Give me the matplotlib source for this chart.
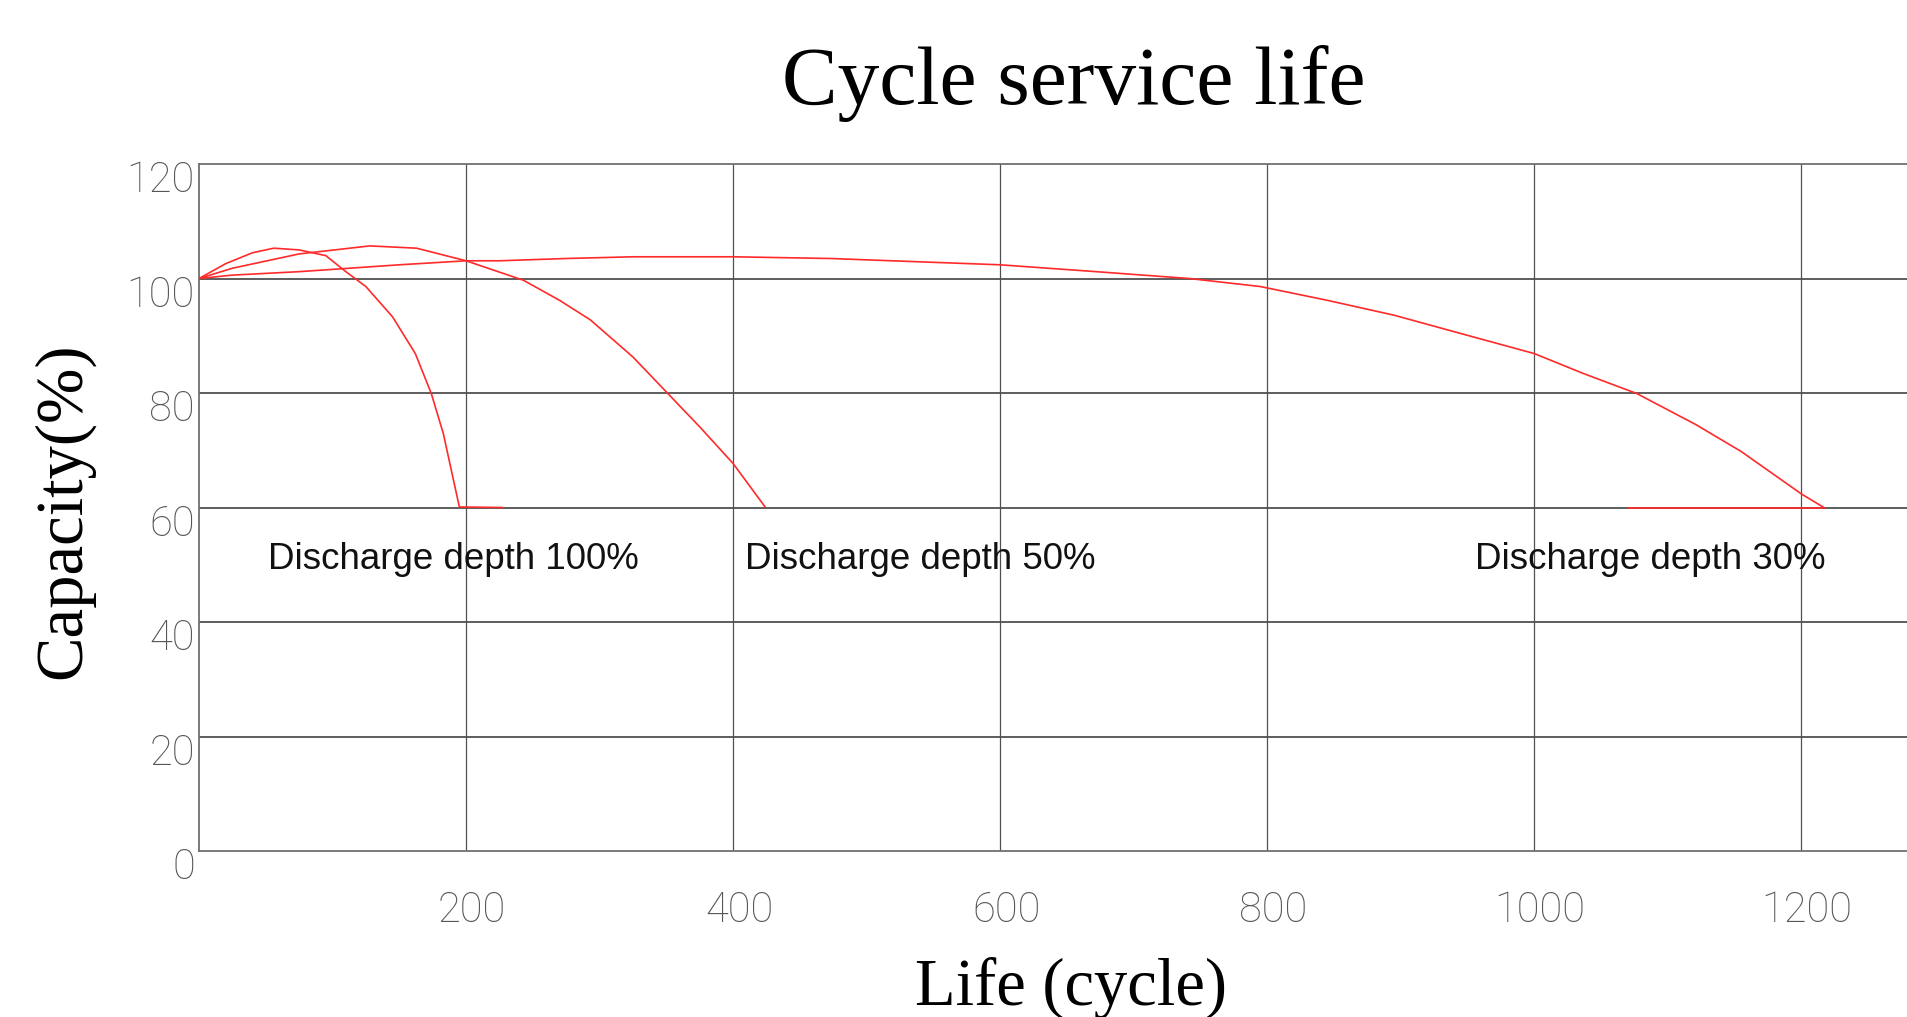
import matplotlib
matplotlib.use("Agg")
import matplotlib.pyplot as plt
from matplotlib.transforms import ScaledTranslation

# ---- data ----
x_ticks = [200, 400, 600, 800, 1000, 1200]
y_ticks = [0, 20, 40, 60, 80, 100, 120]

dod100_x = [0, 20, 40, 56, 75, 95, 110, 125, 145, 162, 174, 183, 195, 227]
dod100_y = [100, 102.6, 104.5, 105.3, 105.0, 104.0, 101.2, 98.6, 93.3, 86.9, 79.9, 72.9, 60.1, 60]

dod50_x = [0, 25, 75, 128, 163, 200, 243, 270, 293, 325, 350, 375, 400, 424]
dod50_y = [100, 101.8, 104.3, 105.7, 105.3, 103.1, 99.7, 96.2, 92.8, 86.3, 80.2, 74.1, 67.7, 60.1]

dod30_x = [0, 25, 75, 150, 200, 225, 275, 325, 400, 473, 600, 672, 742, 795,
           845, 895, 945, 1000, 1037, 1077, 1121, 1155, 1200, 1217]
dod30_y = [100, 100.6, 101.2, 102.4, 103.1, 103.1, 103.5, 103.8, 103.8, 103.5, 102.4,
           101.2, 100, 98.6, 96.2, 93.6, 90.4, 86.9, 83.4, 79.9, 74.5, 69.8, 62.4, 60]
dod30_tail_x = [1070, 1217]
dod30_tail_y = [60, 60]

labels = ["Discharge depth 100%", "Discharge depth 50%", "Discharge depth 30%"]
label_x = [52, 409, 956]
label_y = [51, 51, 51]

# ---- figure ----
fig = plt.figure(figsize=(19.08, 10.17), dpi=100)
ax = fig.add_axes([0.1043, 0.1632, 0.8957, 0.6755])
ax.set_xlim(0, 1280)
ax.set_ylim(0, 120)

grid_c = "#505050"
for yv in y_ticks[1:-1]:
    ax.axhline(yv, color=grid_c, lw=1.3, zorder=1)
for xv in x_ticks:
    ax.axvline(xv, color=grid_c, lw=0.9, zorder=1)

red = "#ff2a2a"
lw = 1.2
ax.plot(dod100_x, dod100_y, color=red, lw=lw, zorder=3)
ax.plot(dod50_x, dod50_y, color=red, lw=lw, zorder=3)
ax.plot(dod30_x, dod30_y, color=red, lw=lw, zorder=3)
ax.plot(dod30_tail_x, dod30_tail_y, color=red, lw=lw, zorder=3)

for t, xx, yy in zip(labels, label_x, label_y):
    ax.text(xx, yy, t, fontsize=26.5, family=["Liberation Sans", "DejaVu Sans"],
            color="#111111", ha="left", va="center", zorder=4)

for s in ["left", "top", "bottom"]:
    ax.spines[s].set_color("#707070")
    ax.spines[s].set_linewidth(1.3)
ax.spines["right"].set_visible(False)

tick_font = ["Roboto", "DejaVu Sans"]
ax.set_xticks(x_ticks)
ax.set_xticklabels([str(v) for v in x_ticks])
ax.set_yticks(y_ticks)
ax.set_yticklabels([str(v) for v in y_ticks])
ax.tick_params(axis="both", length=0, labelcolor="#555555", labelsize=30)
ax.tick_params(axis="x", pad=28)
ax.tick_params(axis="y", pad=3)
for lab in ax.get_xticklabels() + ax.get_yticklabels():
    lab.set_family(tick_font)
    lab.set_fontweight("light")
offset = ScaledTranslation(0, -12 / 100, fig.dpi_scale_trans)
for lab in ax.get_yticklabels():
    lab.set_transform(lab.get_transform() + offset)
xoff = ScaledTranslation(6 / 100, 0, fig.dpi_scale_trans)
for lab in ax.get_xticklabels():
    lab.set_transform(lab.get_transform() + xoff)

serif = ["Liberation Serif", "DejaVu Serif"]
fig.text(1074 / 1908, 1 - 84 / 1017, "Cycle service life", fontsize=60,
         family=serif, ha="center", va="center")
fig.text(1071 / 1908, 1 - 988 / 1017, "Life (cycle)", fontsize=48,
         family=serif, ha="center", va="center")
fig.text(63 / 1908, 1 - 511 / 1017, "Capacity(%)", fontsize=48,
         family=serif, ha="center", va="center", rotation=90)

fig.savefig("out.png", dpi=100, facecolor="white")
